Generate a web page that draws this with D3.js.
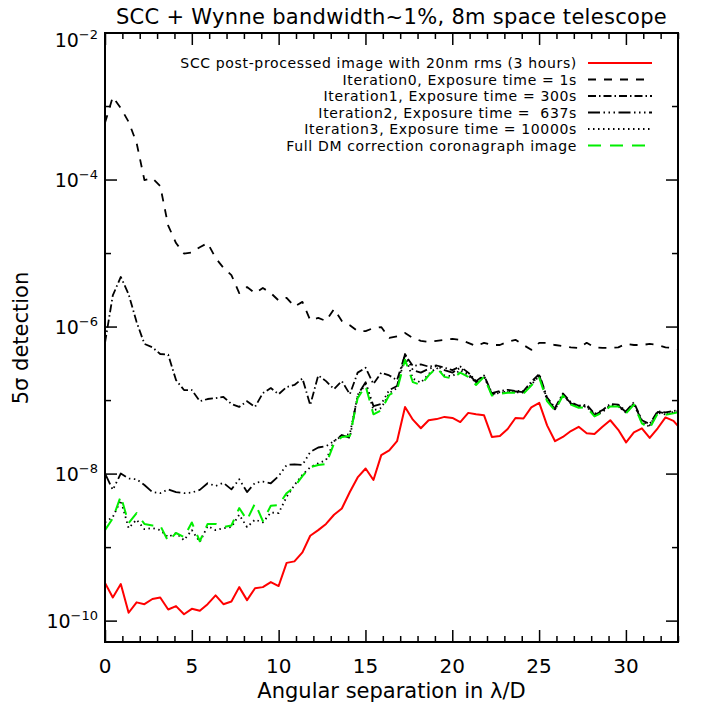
<!DOCTYPE html>
<html>
<head>
<meta charset="utf-8">
<script src="https://cdn.jsdelivr.net/npm/d3@7"></script>
<style>
  body { margin: 0; background: #fff; }
  text { font-family: "DejaVu Sans", sans-serif; fill: #000; }
</style>
</head>
<body>
<div id="my_dataviz"></div>
<script>
// angular separation (lambda/D), one entry per sample
var separation = [0, 0.45, 0.91, 1.36, 1.82, 2.27, 2.73, 3.18, 3.64, 4.09,
  4.55, 5.00, 5.46, 5.91, 6.37, 6.82, 7.28, 7.73, 8.18, 8.64,
  9.09, 9.55, 10.00, 10.46, 10.91, 11.37, 11.82, 12.28, 12.73, 13.19,
  13.64, 14.10, 14.55, 15.01, 15.46, 15.91, 16.37, 16.82, 17.28, 17.73,
  18.19, 18.64, 19.10, 19.55, 20.01, 20.46, 20.92, 21.37, 21.83, 22.28,
  22.74, 23.19, 23.64, 24.10, 24.55, 25.01, 25.46, 25.92, 26.37, 26.83,
  27.28, 27.74, 28.19, 28.65, 29.10, 29.56, 30.01, 30.46, 30.92, 31.37,
  31.83, 32.28, 32.74, 33.19];

var sccPost = [3.3e-10, 2.1e-10, 3.2e-10, 1.3e-10, 1.8e-10, 1.7e-10, 2.0e-10, 2.1e-10, 1.44e-10, 1.6e-10,
  1.24e-10, 1.47e-10, 1.38e-10, 1.7e-10, 2.24e-10, 1.7e-10, 1.85e-10, 2.9e-10, 1.93e-10, 2.8e-10,
  2.9e-10, 3.4e-10, 3.0e-10, 6.2e-10, 6.5e-10, 8.6e-10, 1.45e-9, 1.73e-9, 2.1e-9, 2.8e-9,
  3.4e-9, 5.7e-9, 9.0e-9, 1.19e-8, 8.3e-9, 1.81e-8, 2.1e-8, 2.8e-8, 8.2e-8, 5.5e-8,
  4.2e-8, 5.4e-8, 5.6e-8, 6.0e-8, 5.8e-8, 5.1e-8, 6.8e-8, 6.5e-8, 6.3e-8, 3.2e-8,
  3.3e-8, 4.1e-8, 5.8e-8, 5.7e-8, 8.1e-8, 9.3e-8, 4.6e-8, 2.8e-8, 3.2e-8, 3.85e-8,
  4.4e-8, 3.6e-8, 3.5e-8, 4.4e-8, 5.4e-8, 4.0e-8, 2.7e-8, 3.7e-8, 4.2e-8, 3.1e-8,
  4.2e-8, 5.9e-8, 5.3e-8, 4.0e-8];

var iter0 = [6.0e-4, 1.35e-3, 9.5e-4, 6.2e-4, 3.2e-4, 1.0e-4, 1.06e-4, 8.3e-5, 2.4e-5, 1.39e-5,
  1.0e-5, 1.03e-5, 1.22e-5, 1.39e-5, 8.7e-6, 6.4e-6, 5.1e-6, 2.9e-6, 3.5e-6, 2.9e-6,
  3.4e-6, 2.9e-6, 2.3e-6, 2.5e-6, 1.9e-6, 2.2e-6, 1.24e-6, 1.33e-6, 1.21e-6, 1.76e-6,
  1.21e-6, 1.06e-6, 8.8e-7, 8.8e-7, 9.7e-7, 1.0e-6, 7.1e-7, 7.5e-7, 8.3e-7, 7.1e-7,
  6.5e-7, 6.3e-7, 6.5e-7, 6.7e-7, 6.9e-7, 6.7e-7, 6.1e-7, 5.5e-7, 6.1e-7, 5.7e-7,
  5.7e-7, 6.3e-7, 6.7e-7, 5.7e-7, 4.9e-7, 6.1e-7, 6.1e-7, 5.7e-7, 5.5e-7, 5.3e-7,
  5.2e-7, 6.1e-7, 5.3e-7, 5.2e-7, 5.2e-7, 5.3e-7, 5.9e-7, 5.7e-7, 5.7e-7, 5.9e-7,
  5.7e-7, 5.3e-7, 5.2e-7, 4.9e-7];

var iter1 = [6.1e-7, 2.7e-6, 4.8e-6, 2.8e-6, 1.17e-6, 5.9e-7, 5.3e-7, 4.3e-7, 4.2e-7, 1.9e-7,
  1.39e-7, 1.39e-7, 9.8e-8, 1.05e-7, 1.08e-7, 1.12e-7, 9.0e-8, 8.2e-8, 9.8e-8, 8.2e-8,
  1.26e-7, 1.48e-7, 1.22e-7, 1.53e-7, 1.63e-7, 2.0e-7, 8.7e-8, 2.2e-7, 1.84e-7, 1.43e-7,
  1.84e-7, 1.22e-7, 2.4e-7, 2.8e-7, 1.68e-7, 2.4e-7, 2.2e-7, 1.9e-7, 4.2e-7, 2.95e-7,
  3.1e-7, 2.9e-7, 3.0e-7, 2.8e-7, 2.6e-7, 2.9e-7, 2.4e-7, 1.84e-7, 2.2e-7, 1.26e-7,
  1.35e-7, 1.4e-7, 1.35e-7, 1.35e-7, 1.8e-7, 2.3e-7, 1.1e-7, 8.0e-8, 1.25e-7, 9.5e-8,
  8.5e-8, 8.8e-8, 6.6e-8, 7.4e-8, 9.0e-8, 8.8e-8, 7.2e-8, 9.5e-8, 5.4e-8, 4.8e-8,
  7.2e-8, 6.9e-8, 7.2e-8, 7.5e-8];

var iter2 = [1.02e-8, 6.1e-9, 1.02e-8, 8.7e-9, 8.5e-9, 7.1e-9, 5.7e-9, 5.5e-9, 6.2e-9, 5.7e-9,
  5.5e-9, 5.6e-9, 6.1e-9, 7.5e-9, 6.9e-9, 7.6e-9, 6.2e-9, 8.5e-9, 5.7e-9, 7.6e-9,
  7.9e-9, 7.5e-9, 9.4e-9, 1.33e-8, 1.36e-8, 1.33e-8, 2.0e-8, 2.3e-8, 2.4e-8, 2.8e-8,
  3.4e-8, 3.1e-8, 1.19e-7, 1.78e-7, 8.4e-8, 9.0e-8, 1.39e-7, 1.58e-7, 4.3e-7, 2.6e-7,
  2.4e-7, 2.7e-7, 2.95e-7, 2.6e-7, 2.4e-7, 2.8e-7, 2.3e-7, 1.78e-7, 2.15e-7, 1.22e-7,
  1.3e-7, 1.32e-7, 1.33e-7, 1.3e-7, 1.7e-7, 2.2e-7, 1.05e-7, 7.6e-8, 1.2e-7, 9.2e-8,
  8.3e-8, 8.5e-8, 6.4e-8, 7.2e-8, 8.6e-8, 8.5e-8, 7.0e-8, 9.2e-8, 5.2e-8, 4.6e-8,
  7.0e-8, 6.7e-8, 7.0e-8, 7.3e-8];

var iter3 = [2.2e-9, 2.6e-9, 4.4e-9, 1.84e-9, 2.4e-9, 1.78e-9, 1.84e-9, 1.73e-9, 1.39e-9, 1.58e-9,
  1.26e-9, 1.73e-9, 1.19e-9, 1.96e-9, 1.73e-9, 1.84e-9, 1.9e-9, 2.8e-9, 1.9e-9, 2.4e-9,
  2.2e-9, 3.0e-9, 2.95e-9, 4.9e-9, 7.1e-9, 9.8e-9, 1.24e-8, 1.4e-8, 1.55e-8, 2.8e-8,
  3.3e-8, 3.5e-8, 1.15e-7, 1.68e-7, 7.4e-8, 7.9e-8, 1.26e-7, 1.48e-7, 4.0e-7, 2.0e-7,
  1.75e-7, 2.3e-7, 2.8e-7, 2.2e-7, 2.15e-7, 2.6e-7, 2.2e-7, 1.75e-7, 2.15e-7, 1.2e-7,
  1.28e-7, 1.3e-7, 1.3e-7, 1.28e-7, 1.65e-7, 2.15e-7, 1.02e-7, 7.5e-8, 1.2e-7, 9.0e-8,
  8.2e-8, 8.3e-8, 6.2e-8, 7.0e-8, 8.4e-8, 8.4e-8, 6.8e-8, 9.0e-8, 5.0e-8, 4.4e-8,
  6.8e-8, 6.5e-8, 6.8e-8, 7.2e-8];

var fullDM = [1.73e-9, 2.5e-9, 5.0e-9, 2.15e-9, 2.95e-9, 2.1e-9, 2.0e-9, 2.0e-9, 1.22e-9, 1.58e-9,
  1.39e-9, 2.2e-9, 1.22e-9, 2.1e-9, 2.1e-9, 1.9e-9, 2.0e-9, 3.45e-9, 2.37e-9, 4.0e-9,
  2.3e-9, 3.7e-9, 3.8e-9, 5.5e-9, 6.7e-9, 9.4e-9, 1.24e-8, 1.33e-8, 1.37e-8, 2.6e-8,
  3.2e-8, 3.3e-8, 1.08e-7, 1.58e-7, 6.5e-8, 7.4e-8, 1.19e-7, 1.39e-7, 3.6e-7, 1.78e-7,
  1.63e-7, 2.2e-7, 2.8e-7, 2.1e-7, 2.0e-7, 2.4e-7, 2.1e-7, 1.63e-7, 2.1e-7, 1.17e-7,
  1.24e-7, 1.28e-7, 1.28e-7, 1.24e-7, 1.6e-7, 2.05e-7, 9.8e-8, 7.3e-8, 1.17e-7, 8.8e-8,
  8.0e-8, 8.1e-8, 6.1e-8, 6.9e-8, 8.3e-8, 8.3e-8, 6.7e-8, 8.8e-8, 4.9e-8, 4.2e-8,
  6.7e-8, 6.4e-8, 6.7e-8, 7.1e-8];

var legendLabels = [
  "SCC post-processed image with 20nm rms (3 hours)",
  "Iteration0, Exposure time = 1s",
  "Iteration1, Exposure time = 300s",
  "Iteration2, Exposure time =  637s",
  "Iteration3, Exposure time = 10000s",
  "Full DM correction coronagraph image"
];
var xTickLabels = [0, 5, 10, 15, 20, 25, 30];
var yTickExponents = [-2, -4, -6, -8, -10];

// set the dimensions and margins of the graph
var margin = { top: 33, right: 31, bottom: 67, left: 105 },
    width = 709 - margin.left - margin.right,
    height = 709 - margin.top - margin.bottom;

var svg = d3.select("#my_dataviz")
    .append("svg")
    .attr("width", 709)
    .attr("height", 709)
    .append("g")
    .attr("transform", "translate(" + margin.left + "," + margin.top + ")");

var x = d3.scaleLinear().domain([0, 33]).range([0, width]);
var y = d3.scaleLog().domain([5.2e-11, 1e-2]).range([height, 0]);

svg.append("clipPath").attr("id", "clip")
    .append("rect").attr("width", width).attr("height", height);

// series styles (IDL linestyles)
var series = [
    { values: sccPost, color: "#ff0000", dash: null, w: 2 },
    { values: iter0, color: "#000", dash: "8,8", w: 1.8 },
    { values: iter1, color: "#000", dash: "8,3,1.5,3", w: 1.8 },
    { values: iter2, color: "#000", dash: "12,3.5,1.5,3.5,1.5,3.5,1.5,3.5", w: 1.8 },
    { values: iter3, color: "#000", dash: "1.5,3.5", w: 1.8 },
    { values: fullDM, color: "#00ee00", dash: "13,9", w: 2 }
];

var line = d3.line()
    .x(function (d) { return x(d[0]); })
    .y(function (d) { return y(d[1]); });

svg.append("g").attr("clip-path", "url(#clip)")
    .selectAll("path")
    .data(series)
    .enter()
    .append("path")
    .attr("fill", "none")
    .attr("stroke", function (d) { return d.color; })
    .attr("stroke-width", function (d) { return d.w; })
    .attr("stroke-dasharray", function (d) { return d.dash; })
    .attr("stroke-linejoin", "round")
    .attr("d", function (d) { return line(d3.zip(separation, d.values)); });

// axes box
svg.append("rect")
    .attr("width", width).attr("height", height)
    .attr("fill", "none").attr("stroke", "#000").attr("stroke-width", 2);

// x ticks (inside, bottom and top)
var xMinor = d3.range(0, 34, 1);
function tickLen(v) { return v % 5 === 0 ? 12 : 6; }
svg.append("g").attr("transform", "translate(0," + height + ")")
    .call(d3.axisBottom(x).tickValues(xMinor).tickSize(0).tickFormat(""))
    .call(function (g) {
        g.select(".domain").remove();
        g.selectAll(".tick line").attr("y2", function (d) { return -tickLen(d); })
            .attr("stroke", "#000").attr("stroke-width", 1.5);
    });
svg.append("g")
    .call(d3.axisTop(x).tickValues(xMinor).tickSize(0).tickFormat(""))
    .call(function (g) {
        g.select(".domain").remove();
        g.selectAll(".tick line").attr("y2", function (d) { return tickLen(d); })
            .attr("stroke", "#000").attr("stroke-width", 1.5);
    });
svg.append("g").selectAll("text")
    .data(xTickLabels).enter().append("text")
    .attr("x", function (d) { return x(d); })
    .attr("y", height + 31)
    .attr("text-anchor", "middle")
    .style("font-size", "20px")
    .text(function (d) { return d; });

// y ticks: every decade, long on labelled ones
var decades = d3.range(-10, -1, 1);
function yLen(e) { return e % 2 === 0 ? 12 : 6; }
svg.append("g").selectAll("line")
    .data(decades).enter().append("line")
    .attr("x1", 0).attr("x2", function (d) { return yLen(d); })
    .attr("y1", function (d) { return y(Math.pow(10, d)); })
    .attr("y2", function (d) { return y(Math.pow(10, d)); })
    .attr("stroke", "#000").attr("stroke-width", 1.5);
svg.append("g").selectAll("line")
    .data(decades).enter().append("line")
    .attr("x1", width).attr("x2", function (d) { return width - yLen(d); })
    .attr("y1", function (d) { return y(Math.pow(10, d)); })
    .attr("y2", function (d) { return y(Math.pow(10, d)); })
    .attr("stroke", "#000").attr("stroke-width", 1.5);

var yLab = svg.append("g").selectAll("text")
    .data(yTickExponents).enter().append("text")
    .attr("x", -7)
    .attr("y", function (d) { return Math.max(y(Math.pow(10, d)), 7) + 7; })
    .attr("text-anchor", "end")
    .style("font-size", "19px");
yLab.append("tspan").text("10");
yLab.append("tspan").attr("dy", -8).style("font-size", "13px")
    .text(function (d) { return "\u2212" + Math.abs(d); });

// titles
svg.append("text")
    .attr("x", width / 2).attr("y", -9)
    .attr("text-anchor", "middle")
    .style("font-size", "21px")
    .style("letter-spacing", "0.3px")
    .text("SCC + Wynne bandwidth~1%, 8m space telescope");
svg.append("text")
    .attr("x", width / 2).attr("y", height + 56)
    .attr("text-anchor", "middle")
    .style("font-size", "21px")
    .text("Angular separation in \u03bb/D");
svg.append("text")
    .attr("transform", "translate(" + (28 - margin.left) + "," + (338 - margin.top) + ") rotate(-90)")
    .attr("text-anchor", "middle")
    .style("font-size", "21px")
    .text("5\u03c3 detection");

// legend
var leg = svg.append("g");
var rowY = function (i) { return 30 + i * 16.5; };
leg.selectAll("text")
    .data(legendLabels).enter().append("text")
    .attr("x", 472)
    .attr("y", function (d, i) { return rowY(i) + 5; })
    .attr("text-anchor", "end")
    .style("font-size", "14px")
    .style("letter-spacing", "0.65px")
    .style("white-space", "pre")
    .text(function (d) { return d; });
leg.selectAll("line")
    .data(series).enter().append("line")
    .attr("x1", 483).attr("x2", 547)
    .attr("y1", function (d, i) { return rowY(i); })
    .attr("y2", function (d, i) { return rowY(i); })
    .attr("stroke", function (d) { return d.color; })
    .attr("stroke-width", function (d) { return d.w; })
    .attr("stroke-dasharray", function (d) { return d.dash; });
</script>
</body>
</html>
